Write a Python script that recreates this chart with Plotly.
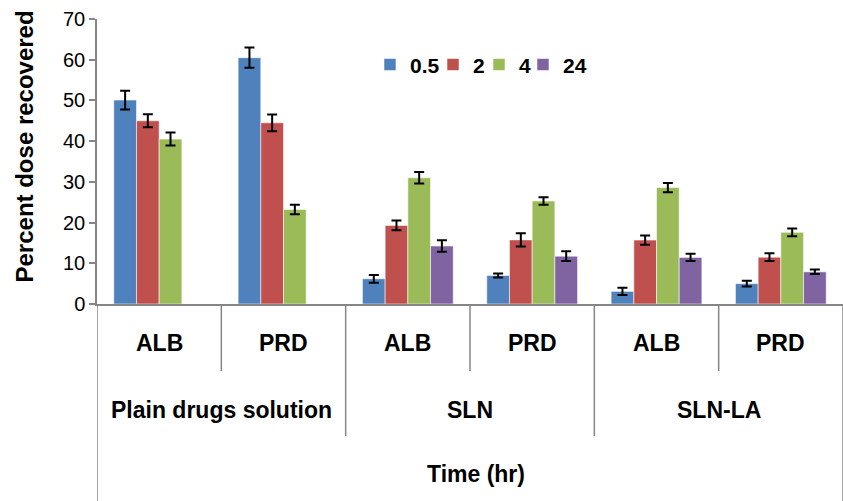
import plotly.graph_objects as go

# ---- data ----
groups = ["Plain drugs solution", "SLN", "SLN-LA"]
drugs = ["ALB", "PRD", "ALB", "PRD", "ALB", "PRD"]
series_names = ["0.5", "2", "4", "24"]
vals_05 = [50.1, 60.5, 6.2, 7.0, 3.1, 5.0]
err_05 = [2.3, 2.5, 0.95, 0.5, 0.9, 0.7]
vals_2 = [45.0, 44.5, 19.3, 15.75, 15.7, 11.5]
err_2 = [1.6, 2.05, 1.2, 1.6, 1.15, 0.95]
vals_4 = [40.5, 23.2, 31.0, 25.3, 28.6, 17.6]
err_4 = [1.6, 1.15, 1.4, 0.9, 1.15, 0.95]
vals_24 = [None, None, 14.25, 11.75, 11.45, 7.9]
err_24 = [0, 0, 1.4, 1.2, 0.9, 0.55]
colors = ["#4F81BD", "#C0504D", "#9BBB59", "#8064A2"]
y_ticks = [0, 10, 20, 30, 40, 50, 60, 70]
x_title = "Time (hr)"
y_title = "Percent dose recovered"

FONT = "Liberation Sans, Arial, Helvetica, sans-serif"
AXC = "#868686"
PLOT_L, PLOT_W = 97, 746

# legend entry left positions (pixels), one legend per series
legend_px = [370, 433, 479, 523]
legend_ids = ["legend", "legend2", "legend3", "legend4"]

xpos = list(range(len(drugs)))
fig = go.Figure()
for name, v, e, c, lid in zip(series_names, [vals_05, vals_2, vals_4, vals_24],
                              [err_05, err_2, err_4, err_24], colors, legend_ids):
    fig.add_trace(go.Bar(
        x=xpos, y=v, name="<b>%s</b>" % name, legend=lid,
        marker=dict(color=c, line=dict(color="rgba(255,255,255,0.55)", width=1)),
        error_y=dict(type="data", array=e, color="black", thickness=2, width=5, visible=True),
    ))

ann = []
for i, d in enumerate(drugs):
    ann.append(dict(x=i, y=0, xref="x", yref="paper", text="<b>%s</b>" % d,
                    showarrow=False, yanchor="middle", yshift=-39,
                    font=dict(size=23, family=FONT, color="black")))
for g, name in enumerate(groups):
    ann.append(dict(x=2 * g + 0.5, y=0, xref="x", yref="paper", text="<b>%s</b>" % name,
                    showarrow=False, yanchor="middle", yshift=-106,
                    font=dict(size=23, family=FONT, color="black")))
ann.append(dict(x=2.55, y=0, xref="x", yref="paper", text="<b>%s</b>" % x_title,
                showarrow=False, yanchor="middle", yshift=-170,
                font=dict(size=23, family=FONT, color="black")))
ann.append(dict(x=0, y=0.5, xref="paper", yref="paper", text="<b>%s</b>" % y_title,
                showarrow=False, textangle=-90, xanchor="center", yanchor="middle",
                xshift=-73, yshift=15,
                font=dict(size=24, family=FONT, color="black")))

shapes = []
def vline(xv, depth):
    shapes.append(dict(type="line", xref="x", yref="paper", ysizemode="pixel", yanchor=0,
                       x0=xv, x1=xv, y0=0, y1=-depth,
                       line=dict(color=AXC, width=1.5)))
vline(-0.5, 200)
vline(5.5, 200)
for xv in [0.5, 2.5, 4.5]:
    vline(xv, 67)
for xv in [1.5, 3.5]:
    vline(xv, 132)

legend_layouts = {}
for lid, px in zip(legend_ids, legend_px):
    legend_layouts[lid] = dict(
        orientation="h", x=(px - PLOT_L) / PLOT_W, xanchor="left",
        y=0.839, yanchor="middle",
        font=dict(size=21, family=FONT, color="black"),
        bgcolor="rgba(0,0,0,0)", itemwidth=30)

fig.update_layout(
    width=843, height=501,
    margin=dict(l=97, r=0, t=19, b=197, pad=0),
    paper_bgcolor="white", plot_bgcolor="white",
    barmode="group", bargap=0.27, bargroupgap=0,
    font=dict(family=FONT, color="black"),
    showlegend=True,
    annotations=ann,
    shapes=shapes,
    **legend_layouts,
)
fig.update_xaxes(range=[-0.5, 5.5], showticklabels=False, showgrid=False,
                 zeroline=False, showline=True, linecolor=AXC, linewidth=1.5, ticks="")
fig.update_yaxes(range=[0, 70], tickvals=y_ticks, showgrid=False, zeroline=False,
                 showline=True, linecolor=AXC, linewidth=1.5,
                 ticks="outside", ticklen=6, tickcolor=AXC, tickwidth=1.5,
                 tickfont=dict(size=20, family=FONT, color="black"))

fig.write_html("out.html")
